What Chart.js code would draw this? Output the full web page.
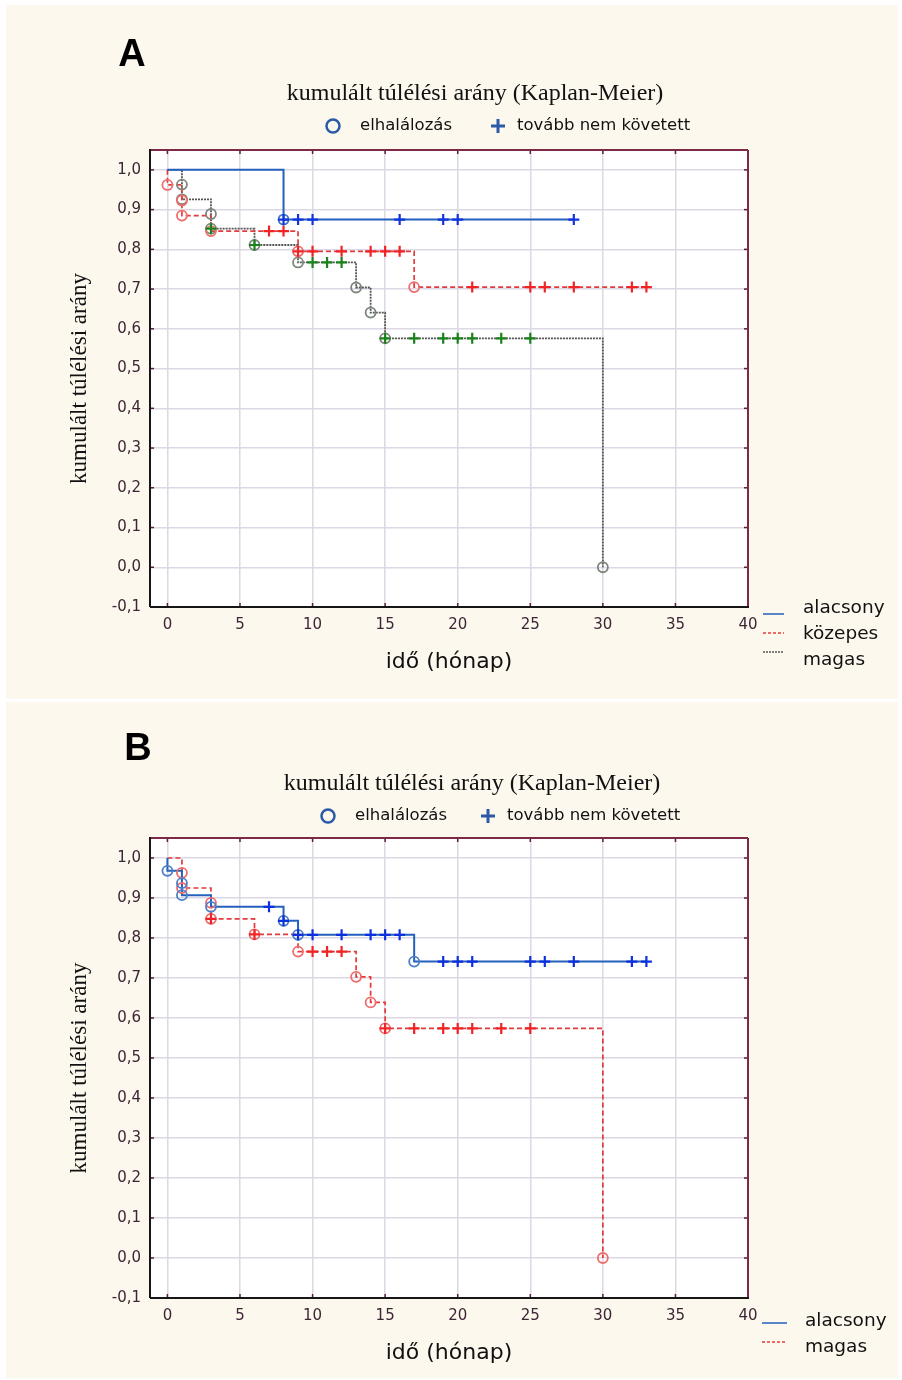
<!DOCTYPE html>
<html>
<head>
<meta charset="utf-8">
<script src="https://cdn.jsdelivr.net/npm/chart.js@4.4.1/dist/chart.umd.min.js"></script>
<style>
  body { margin: 0; background: #fff; width: 902px; height: 1380px; position: relative; overflow: hidden; }
  .panel { position: absolute; left: 6px; width: 892px; background: #fcf8ee; }
  #pa { top: 5px; height: 694px; }
  #pb { top: 702px; height: 676px; }
  canvas { position: absolute; left: 0; }
  #chartA { top: 0; }
  #chartB { top: 700px; }
</style>
</head>
<body>
<div class="panel" id="pa"></div>
<div class="panel" id="pb"></div>
<canvas id="chartA" width="902" height="700"></canvas>
<canvas id="chartB" width="902" height="680"></canvas>
<script>
// axis ticks
var xTicks = [0, 5, 10, 15, 20, 25, 30, 35, 40];
var yTicks = [-0.1, 0, 0.1, 0.2, 0.3, 0.4, 0.5, 0.6, 0.7, 0.8, 0.9, 1.0];

// panel A - step points (time, survival), last point = end of follow-up
var aLowTime = [0, 8, 28];
var aLowSurv = [1.0, 0.875, 0.875];
var aLowCens = [8, 9, 10, 16, 19, 20, 28];

var aMidTime = [0, 0, 1, 1, 3, 9, 17, 33];
var aMidSurv = [1.0, 0.962, 0.923, 0.885, 0.846, 0.795, 0.705, 0.705];
var aMidCens = [7, 8, 9, 10, 12, 14, 15, 16, 21, 25, 26, 28, 32, 33];

var aHighTime = [0, 1, 1, 3, 3, 6, 9, 13, 14, 15, 30];
var aHighSurv = [1.0, 0.963, 0.926, 0.889, 0.852, 0.811, 0.767, 0.704, 0.641, 0.576, 0.0];
var aHighCens = [3, 6, 10, 11, 12, 15, 17, 19, 20, 21, 23, 25];

// panel B
var bLowTime = [0, 0, 1, 1, 3, 8, 9, 17, 33];
var bLowSurv = [1.0, 0.968, 0.937, 0.907, 0.878, 0.843, 0.808, 0.741, 0.741];
var bLowCens = [7, 8, 9, 10, 12, 14, 15, 16, 19, 20, 21, 25, 26, 28, 32, 33];

var bHighTime = [0, 1, 1, 3, 3, 6, 9, 13, 14, 15, 30];
var bHighSurv = [1.0, 0.963, 0.925, 0.888, 0.848, 0.809, 0.766, 0.703, 0.639, 0.574, 0.0];
var bHighCens = [3, 6, 10, 11, 12, 15, 17, 19, 20, 21, 23, 25];

var TITLE = 'kumulált túlélési arány (Kaplan-Meier)';
var YTITLE = 'kumulált túlélési arány';
var XTITLE = 'idő (hónap)';

function survAt(time, surv, t) {
  var v = surv[0];
  for (var i = 0; i < time.length; i++) {
    if (time[i] <= t) v = surv[i];
  }
  return v;
}

function stepLine(label, time, surv, color, dash, width) {
  return {
    label: label,
    data: time.map(function (t, i) { return {x: t, y: surv[i]}; }),
    stepped: true,
    borderColor: color,
    borderDash: dash,
    borderWidth: width,
    pointRadius: 0,
    fill: false,
    order: 2
  };
}

function deathMarks(time, surv, color) {
  var pts = [];
  for (var i = 1; i < time.length; i++) {
    if (surv[i] < surv[i - 1]) pts.push({x: time[i], y: surv[i]});
  }
  return {
    data: pts, showLine: false, pointStyle: 'circle', pointRadius: 5,
    pointBorderWidth: 1.8, pointBorderColor: color, pointBackgroundColor: 'rgba(0,0,0,0)',
    order: 1
  };
}

function censMarks(cens, time, surv, color) {
  return {
    data: cens.map(function (t) { return {x: t, y: survAt(time, surv, t)}; }),
    showLine: false, pointStyle: 'cross', pointRadius: 5.5,
    pointBorderWidth: 2.2, pointBorderColor: color,
    order: 0
  };
}

var decor = {
  id: 'decor',
  beforeDraw: function (chart) {
    var a = chart.chartArea, ctx = chart.ctx;
    ctx.save();
    ctx.fillStyle = '#ffffff';
    ctx.fillRect(a.left, a.top, a.right - a.left, a.bottom - a.top);
    ctx.restore();
  },
  afterDraw: function (chart, args, o) {
    var a = chart.chartArea, ctx = chart.ctx, sx = chart.scales.x, sy = chart.scales.y;
    ctx.save();
    function seg(x1, y1, x2, y2) { ctx.beginPath(); ctx.moveTo(x1, y1); ctx.lineTo(x2, y2); ctx.stroke(); }

    // inner tick marks
    ctx.strokeStyle = '#5a1f35';
    ctx.lineWidth = 1.5;
    xTicks.forEach(function (v) {
      var x = sx.getPixelForValue(v);
      seg(x, a.top, x, a.top + 4);
      seg(x, a.bottom, x, a.bottom - 4);
    });
    yTicks.forEach(function (v) {
      var y = sy.getPixelForValue(v);
      seg(a.left, y, a.left + 4, y);
      seg(a.right, y, a.right - 4, y);
    });

    // frame
    ctx.lineWidth = 2;
    ctx.strokeStyle = '#7d2a48';
    seg(a.left, a.top, a.right, a.top);
    seg(a.right, a.top, a.right, a.bottom);
    ctx.strokeStyle = '#161616';
    seg(a.left, a.top - 1, a.left, a.bottom);
    seg(a.left, a.bottom, a.right + 1, a.bottom);

    // panel letter
    ctx.fillStyle = '#000';
    ctx.textBaseline = 'middle';
    ctx.textAlign = 'center';
    ctx.font = 'bold 38px "Liberation Sans"';
    ctx.fillText(o.letter, o.letterX, o.letterY);

    // title
    ctx.font = '24px "Liberation Serif"';
    ctx.fillStyle = '#111';
    ctx.fillText(TITLE, o.titleX, o.titleY);

    // symbol legend
    ctx.strokeStyle = '#2b5aa6';
    ctx.lineWidth = 2.5;
    ctx.beginPath();
    ctx.arc(o.circX, o.symY, 6.5, 0, Math.PI * 2);
    ctx.stroke();
    ctx.lineWidth = 3;
    seg(o.plusX - 7, o.symY, o.plusX + 7, o.symY);
    seg(o.plusX, o.symY - 7, o.plusX, o.symY + 7);
    ctx.textAlign = 'left';
    ctx.font = '16.5px "DejaVu Sans"';
    ctx.fillStyle = '#111';
    ctx.fillText('elhalálozás', o.circX + 27, o.symY);
    ctx.fillText('tovább nem követett', o.plusX + 19, o.symY);

    // line legend
    ctx.font = '18.5px "DejaVu Sans"';
    o.items.forEach(function (it) {
      ctx.strokeStyle = it.color;
      ctx.lineWidth = 1.5;
      ctx.setLineDash(it.dash);
      seg(o.keyX1, it.lineY, o.keyX2, it.lineY);
      ctx.setLineDash([]);
      ctx.fillStyle = '#111';
      ctx.fillText(it.text, o.textX, it.textY);
    });
    ctx.restore();
  }
};

function makeOptions(pad, deco) {
  return {
    responsive: false,
    animation: false,
    events: [],
    layout: {padding: pad},
    plugins: {legend: {display: false}, tooltip: {enabled: false}, decor: deco},
    scales: {
      x: {
        type: 'linear', min: -1.2, max: 40,
        afterBuildTicks: function (s) { s.ticks = xTicks.map(function (v) { return {value: v}; }); },
        afterFit: function (s) { s.height = 70; },
        grid: {color: '#dcd8e6', lineWidth: 1.5, drawTicks: false},
        border: {display: false},
        ticks: {autoSkip: false, maxRotation: 0, padding: 9, color: '#3e2535',
          font: {family: 'DejaVu Sans', size: 15},
          callback: function (v) { return String(v); }},
        title: {display: true, text: XTITLE, color: '#111',
          font: {family: 'DejaVu Sans', size: 22}, padding: {top: 0, bottom: 2}}
      },
      y: {
        type: 'linear', min: -0.1, max: 1.05,
        afterBuildTicks: function (s) { s.ticks = yTicks.map(function (v) { return {value: v}; }); },
        afterFit: function (s) { s.width = 100; },
        grid: {color: '#dcd8e6', lineWidth: 1.5, drawTicks: false},
        border: {display: false},
        ticks: {autoSkip: false, padding: 9, color: '#3e2535',
          font: {family: 'DejaVu Sans', size: 15},
          callback: function (v) { return v.toFixed(1).replace('.', ','); }},
        title: {display: true, text: YTITLE, color: '#111',
          font: {family: 'Liberation Serif', size: 23}, padding: {top: 16, bottom: 0}}
      }
    }
  };
}

var BLUE = '#2461bd', RED = '#e23b3b', GREY = '#555555';

new Chart(document.getElementById('chartA'), {
  type: 'line',
  data: {
    datasets: [
      stepLine('alacsony', aLowTime, aLowSurv, BLUE, [], 2),
      stepLine('közepes', aMidTime, aMidSurv, RED, [5, 3], 1.7),
      stepLine('magas', aHighTime, aHighSurv, GREY, [2, 1], 1.8),
      deathMarks(aLowTime, aLowSurv, '#3f74c4'),
      deathMarks(aMidTime, aMidSurv, '#ef6c6c'),
      deathMarks(aHighTime, aHighSurv, '#7c877c'),
      censMarks(aLowCens, aLowTime, aLowSurv, '#1234e0'),
      censMarks(aMidCens, aMidTime, aMidSurv, '#f02424'),
      censMarks(aHighCens, aHighTime, aHighSurv, '#1a821a')
    ]
  },
  options: makeOptions({left: 50, right: 154, top: 150, bottom: 23}, {
    letter: 'A', letterX: 132, letterY: 56,
    titleX: 475, titleY: 94,
    circX: 333, plusX: 498, symY: 126,
    keyX1: 763, keyX2: 784, textX: 803,
    items: [
      {text: 'alacsony', color: BLUE, dash: [], lineY: 614, textY: 608},
      {text: 'közepes', color: RED, dash: [3, 2], lineY: 633, textY: 634},
      {text: 'magas', color: GREY, dash: [2, 1], lineY: 652, textY: 660}
    ]
  }),
  plugins: [decor]
});

new Chart(document.getElementById('chartB'), {
  type: 'line',
  data: {
    datasets: [
      stepLine('alacsony', bLowTime, bLowSurv, BLUE, [], 2),
      stepLine('magas', bHighTime, bHighSurv, RED, [5, 3], 1.7),
      deathMarks(bLowTime, bLowSurv, '#4a7fc8'),
      deathMarks(bHighTime, bHighSurv, '#ef6c6c'),
      censMarks(bLowCens, bLowTime, bLowSurv, '#0c30dc'),
      censMarks(bHighCens, bHighTime, bHighSurv, '#f02424')
    ]
  },
  options: makeOptions({left: 50, right: 154, top: 138, bottom: 12}, {
    letter: 'B', letterX: 138, letterY: 50,
    titleX: 472, titleY: 84,
    circX: 328, plusX: 488, symY: 116,
    keyX1: 762, keyX2: 787, textX: 805,
    items: [
      {text: 'alacsony', color: BLUE, dash: [], lineY: 623, textY: 621},
      {text: 'magas', color: RED, dash: [3, 2], lineY: 642, textY: 647}
    ]
  }),
  plugins: [decor]
});
</script>
</body>
</html>
